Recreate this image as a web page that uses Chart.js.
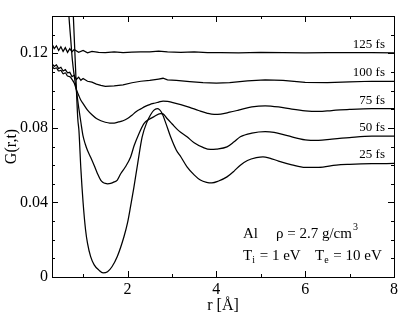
<!DOCTYPE html>
<html>
<head>
<meta charset="utf-8">
<script src="https://cdn.jsdelivr.net/npm/chart.js@4/dist/chart.umd.min.js"></script>
<style>
html,body{margin:0;padding:0;background:#fff;}
#c{display:block;}
</style>
</head>
<body>
<canvas id="c" width="415" height="321" style="width:415px;height:321px"></canvas>
<script>
// ---- data ----
const seriesNames = ['125 fs','100 fs','75 fs','50 fs','25 fs'];

const r125 = [0.3,0.35,0.4,0.45,0.5,0.55,0.6,0.65,0.7,0.75,0.8,0.9,1.0,1.1,1.2,1.35,1.5,1.7,1.9,2.1,2.3,2.5,2.7,2.9,3.2,3.5,3.8,4.1,4.5,5.0,5.5,6.0,6.5,7.0,7.5,8.0];
const g125 = [0.125,0.1225,0.124,0.1215,0.1235,0.121,0.123,0.1205,0.1225,0.1208,0.122,0.1205,0.1215,0.1202,0.121,0.1205,0.1203,0.1207,0.1203,0.1206,0.1208,0.1207,0.1212,0.1207,0.1205,0.1208,0.1204,0.1203,0.1202,0.1205,0.1204,0.1202,0.1203,0.1204,0.1203,0.1202];

const r100 = [0.3,0.35,0.4,0.45,0.5,0.55,0.6,0.65,0.7,0.75,0.8,0.85,0.9,0.95,1.0,1.1,1.2,1.3,1.4,1.5,1.7,1.9,2.1,2.3,2.5,2.7,2.8,2.9,3.1,3.4,3.7,4.0,4.3,4.7,5.1,5.5,6.0,6.5,7.0,7.5,8.0];
const g100 = [0.1145,0.113,0.1138,0.1118,0.1125,0.1105,0.1112,0.1095,0.1098,0.1075,0.1082,0.106,0.1072,0.1055,0.1065,0.105,0.1045,0.1035,0.1028,0.1023,0.1025,0.103,0.1042,0.105,0.1055,0.1062,0.1066,0.1058,0.1055,0.1048,0.1042,0.104,0.1043,0.1052,0.1058,0.1055,0.1044,0.1043,0.1047,0.105,0.105];

const r75 = [0.3,0.35,0.4,0.45,0.5,0.55,0.6,0.65,0.7,0.75,0.8,0.85,0.9,0.95,1.0,1.1,1.2,1.3,1.4,1.5,1.6,1.7,1.8,1.9,2.0,2.1,2.2,2.3,2.4,2.5,2.6,2.7,2.8,2.9,3.0,3.2,3.4,3.6,3.8,3.95,4.1,4.3,4.5,4.8,5.1,5.4,5.7,6.0,6.3,6.6,7.0,7.5,8.0];
const g75 = [0.113,0.1118,0.1122,0.1105,0.1108,0.109,0.1095,0.1078,0.1075,0.106,0.104,0.1005,0.0975,0.0948,0.093,0.0895,0.087,0.085,0.0838,0.083,0.0826,0.0826,0.0832,0.0838,0.085,0.0868,0.0888,0.0902,0.0915,0.0925,0.0932,0.0938,0.0944,0.0942,0.0937,0.0925,0.091,0.0893,0.0878,0.0872,0.0874,0.0884,0.0895,0.0912,0.0918,0.0912,0.09,0.0891,0.0888,0.0893,0.0899,0.0903,0.0903];

const r50 = [0.62,0.68,0.72,0.76,0.8,0.85,0.9,0.95,1.0,1.05,1.1,1.17,1.25,1.32,1.4,1.45,1.5,1.55,1.62,1.7,1.77,1.85,1.95,2.07,2.15,2.25,2.37,2.48,2.59,2.74,2.8,2.89,3.0,3.15,3.34,3.5,3.7,3.87,4.0,4.24,4.4,4.54,4.8,5.1,5.3,5.6,6.0,6.3,6.6,7.0,7.5,8.0];
const g50 = [0.165,0.1403,0.128,0.116,0.108,0.1,0.091,0.083,0.0755,0.0712,0.0678,0.0642,0.0598,0.0557,0.0518,0.0507,0.0502,0.05,0.0502,0.051,0.052,0.0555,0.059,0.0644,0.0705,0.0765,0.0823,0.0845,0.0859,0.0877,0.0875,0.085,0.0822,0.0785,0.0752,0.072,0.0695,0.0684,0.0686,0.0698,0.0725,0.0752,0.0772,0.078,0.0776,0.0758,0.0736,0.0733,0.074,0.0748,0.0755,0.0755];

const r25 = [0.74,0.78,0.83,0.88,0.906,0.95,1.0,1.056,1.1,1.17,1.25,1.355,1.45,1.55,1.65,1.77,1.92,2.0,2.07,2.14,2.23,2.33,2.44,2.52,2.59,2.67,2.72,2.78,2.87,2.97,3.1,3.2,3.34,3.5,3.64,3.78,3.9,4.05,4.24,4.4,4.54,4.7,4.9,5.05,5.2,5.4,5.7,6.0,6.3,6.7,7.0,7.5,8.0];
const g25 = [0.165,0.1403,0.112,0.085,0.0787,0.058,0.04,0.0252,0.018,0.0109,0.0065,0.0037,0.0022,0.0028,0.0055,0.011,0.0216,0.029,0.038,0.0475,0.061,0.0752,0.0832,0.087,0.0894,0.0903,0.0898,0.0877,0.082,0.0752,0.068,0.0645,0.0591,0.0548,0.052,0.0508,0.0505,0.0515,0.0537,0.0568,0.06,0.0625,0.064,0.0645,0.0638,0.0622,0.0602,0.0588,0.0588,0.06,0.0604,0.0608,0.0609];

const xMajorTicks = [2,4,6,8];
const xMinorTicks = [1,3,5,7];
const yMajorTicks = [0,0.04,0.08,0.12];
const yTickLabels = ['0','0.04','0.08','0.12'];
const yMinorTicks = [0.01,0.02,0.03,0.05,0.06,0.07,0.09,0.10,0.11,0.13];
const xTickLabels = ['2','4','6','8'];

// ---- build datasets ----
const rs = [r125,r100,r75,r50,r25];
const gs = [g125,g100,g75,g50,g25];
const smooth = [false,false,true,true,true];
const datasets = seriesNames.map((n,i)=>({
  label:n,
  data: rs[i].map((r,j)=>({x:r,y:gs[i][j]})),
  borderColor:'#000',
  borderWidth:1.25,
  pointRadius:0,
  fill:false,
  cubicInterpolationMode: smooth[i] ? 'monotone' : 'default',
  tension:0
}));

const SERIF = "'Liberation Serif','DejaVu Serif',serif";

const framePlugin = {
  id:'frame',
  afterDraw(chart){
    const ctx = chart.ctx, a = chart.chartArea;
    const xs = chart.scales.x, ys = chart.scales.y;
    ctx.save();
    ctx.strokeStyle = '#000';
    ctx.lineWidth = 1;
    ctx.strokeRect(Math.round(a.left)+0.5, Math.round(a.top)+0.5, Math.round(a.right-a.left), Math.round(a.bottom-a.top));
    const tick = (vals, len, horiz) => {
      vals.forEach(v=>{
        if (horiz) {
          const p = Math.round(xs.getPixelForValue(v))+0.5;
          ctx.beginPath();
          ctx.moveTo(p,a.bottom); ctx.lineTo(p,a.bottom-len);
          ctx.moveTo(p,a.top); ctx.lineTo(p,a.top+len);
          ctx.stroke();
        } else {
          const p = Math.round(ys.getPixelForValue(v))+0.5;
          ctx.beginPath();
          ctx.moveTo(a.left,p); ctx.lineTo(a.left+len,p);
          ctx.moveTo(a.right,p); ctx.lineTo(a.right-len,p);
          ctx.stroke();
        }
      });
    };
    tick(xMajorTicks,6,true);
    tick(xMinorTicks,3,true);
    tick(yMajorTicks,6,false);
    tick(yMinorTicks,3,false);

    // series labels, anchored to each curve's last value
    ctx.fillStyle = '#000';
    ctx.font = "13px " + SERIF;
    ctx.textAlign = 'right';
    ctx.textBaseline = 'alphabetic';
    const xr = xs.getPixelForValue(8) - 9;
    seriesNames.forEach((n,i)=>{
      const g = gs[i][gs[i].length-1];
      ctx.fillText(n, xr, ys.getPixelForValue(g) - 5);
    });

    // annotation
    ctx.textAlign = 'left';
    const ax = xs.getPixelForValue(4.6);
    const ay1 = ys.getPixelForValue(0.0209);
    const ay2 = ys.getPixelForValue(0.0091);
    const big = "15px " + SERIF, small = "10px " + SERIF;
    ctx.font = big;
    ctx.fillText('Al', ax, ay1);
    const s1 = 'ρ = 2.7 g/cm';
    const x1 = ax + 33;
    ctx.fillText(s1, x1, ay1);
    const w1 = ctx.measureText(s1).width;
    ctx.font = small;
    ctx.fillText('3', x1 + w1 + 1, ay1 - 8);
    // line 2
    let x = ax;
    ctx.font = big; ctx.fillText('T', x, ay2); x += ctx.measureText('T').width;
    ctx.font = small; ctx.fillText('i', x, ay2 + 3); x += ctx.measureText('i').width + 1;
    ctx.font = big; ctx.fillText(' = 1 eV', x, ay2);
    x = ax + 72;
    ctx.fillText('T', x, ay2); x += ctx.measureText('T').width;
    ctx.font = small; ctx.fillText('e', x, ay2 + 3); x += ctx.measureText('e').width + 1;
    ctx.font = big; ctx.fillText(' = 10 eV', x, ay2);
    ctx.restore();
  }
};

new Chart(document.getElementById('c'), {
  type:'line',
  data:{datasets},
  options:{
    responsive:false,
    animation:false,
    devicePixelRatio:1,
    layout:{padding:{top:16,right:21,left:0,bottom:0}},
    plugins:{legend:{display:false},tooltip:{enabled:false}},
    scales:{
      x:{
        type:'linear', min:0.3, max:8,
        grid:{display:false, drawTicks:false},
        border:{display:false},
        afterBuildTicks:(s)=>{ s.ticks = xMajorTicks.map(v=>({value:v})); },
        afterFit:(s)=>{ s.height = 44; },
        ticks:{color:'#000', font:{family:SERIF,size:16}, padding:3, maxRotation:0,
          callback:(v,i)=>xTickLabels[i]},
        title:{display:true, text:'r [Å]', color:'#000', font:{family:SERIF,size:16}, padding:{top:0,bottom:6}}
      },
      y:{
        type:'linear', min:0, max:0.14,
        grid:{display:false, drawTicks:false},
        border:{display:false},
        afterBuildTicks:(s)=>{ s.ticks = yMajorTicks.map(v=>({value:v})); },
        afterFit:(s)=>{ s.width = 52; },
        ticks:{color:'#000', font:{family:SERIF,size:16}, padding:4,
          callback:(v,i)=>yTickLabels[i]},
        title:{display:true, text:'G(r,t)', color:'#000', font:{family:SERIF,size:16}, padding:{top:2,bottom:0}}
      }
    }
  },
  plugins:[framePlugin]
});
</script>
</body>
</html>
